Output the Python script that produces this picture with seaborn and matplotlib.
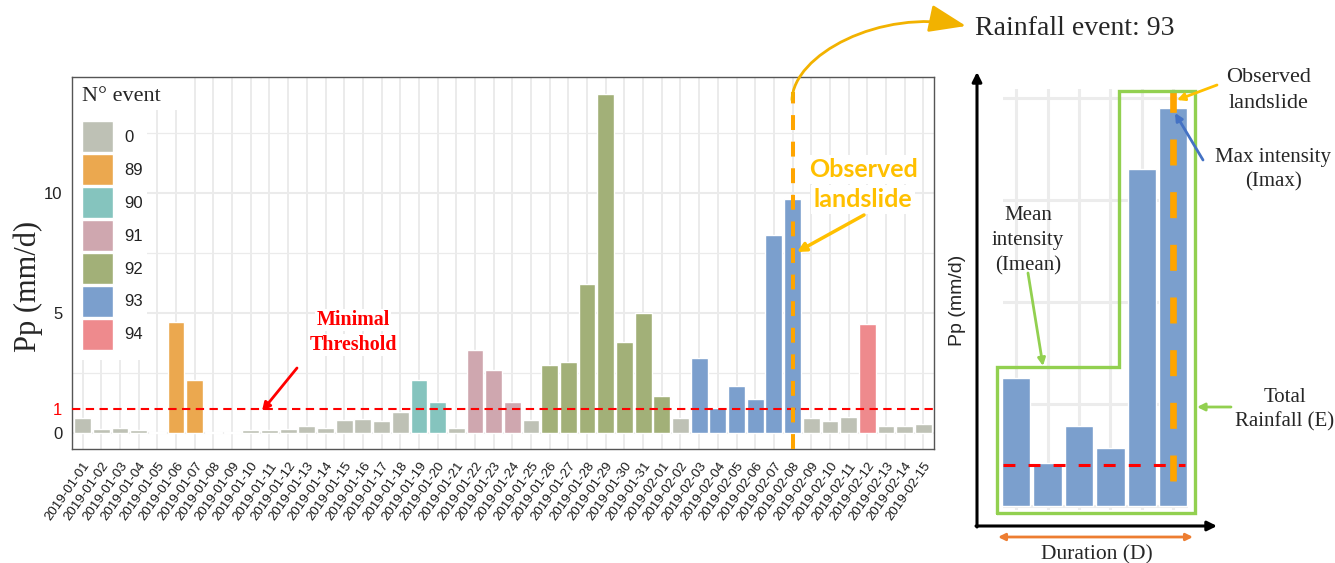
import numpy as np
import pandas as pd
import matplotlib
matplotlib.use("Agg")
import matplotlib.pyplot as plt
import matplotlib.patches as mpatches
from matplotlib.path import Path
from matplotlib.lines import Line2D
import seaborn as sns

# ---------------------------------------------------------------- data
dates = pd.date_range("2019-01-01", "2019-02-15").strftime("%Y-%m-%d").tolist()

rain_mm = [0.60, 0.17, 0.21, 0.11, 0.05, 4.61, 2.19, 0.03, 0.02, 0.10,
           0.13, 0.16, 0.26, 0.21, 0.51, 0.58, 0.48, 0.86, 2.19, 1.28,
           0.18, 3.47, 2.60, 1.29, 0.54, 2.83, 2.96, 6.21, 14.12, 3.80,
           4.98, 1.54, 0.60, 3.12, 1.04, 1.96, 1.42, 8.26, 9.75, 0.60,
           0.50, 0.64, 4.54, 0.28, 0.28, 0.36]

event_id = ["0", "0", "0", "0", "0", "89", "89", "0", "0", "0",
            "0", "0", "0", "0", "0", "0", "0", "0", "90", "90",
            "0", "91", "91", "91", "0", "92", "92", "92", "92", "92",
            "92", "92", "0", "93", "93", "93", "93", "93", "93", "0",
            "0", "0", "94", "0", "0", "0"]

event_levels = ["0", "89", "90", "91", "92", "93", "94"]
event_colors = ["#BEC1B5", "#EBA84F", "#85C4BE", "#CFA7AF",
                "#A2B078", "#7B9FCD", "#EE8A8D"]

threshold = 1.0
landslide_date = "2019-02-08"
focus_event = "93"

df = pd.DataFrame({"date": dates, "pp": rain_mm, "event": event_id})
focus = df[df["event"] == focus_event].reset_index(drop=True)

# ---------------------------------------------------------------- figure
W, H = 1335, 563
sns.set_style("white")
plt.rcParams["font.family"] = ["Liberation Sans", "DejaVu Sans"]
SERIF = ["Liberation Serif", "DejaVu Serif"]

fig = plt.figure(figsize=(W / 100, H / 100), dpi=100)


def P(x, y):
    """pixel position (from the top-left corner) -> figure fraction"""
    return (x / W, 1 - y / H)


def arrow(x0, y0, x1, y1, color, lw=2.0, style="-|>", scale=12):
    fig.add_artist(mpatches.FancyArrowPatch(
        P(x0, y0), P(x1, y1), transform=fig.transFigure,
        arrowstyle=style, mutation_scale=scale, color=color, lw=lw,
        shrinkA=0, shrinkB=0, zorder=10))


# ================================================================ main chart
ax = fig.add_axes([72 / W, 1 - 449 / H, 862 / W, 372 / H])
pal = dict(zip(event_levels, event_colors))
sns.barplot(data=df, x="date", y="pp", hue="event", hue_order=event_levels,
            palette=pal, dodge=False, width=0.9, saturation=1,
            ax=ax, zorder=2)

ymin, ymax = -0.68, 14.84
ax.set_xlim(-0.57, len(dates) - 0.43)
ax.set_ylim(ymin, ymax)

grid_c = "#EBEBEB"
for v in [0, 5, 10]:
    ax.axhline(v, color=grid_c, lw=1.5, zorder=0)
for v in [2.5, 7.5, 12.5]:
    ax.axhline(v, color=grid_c, lw=0.9, zorder=0)
for i in range(len(dates)):
    ax.axvline(i, color=grid_c, lw=1.4, zorder=0)

ax.set_yticks([0, 1, 5, 10])
ax.set_yticklabels(["0", "1", "5", "10"], fontsize=12, color="#222222")
ax.get_yticklabels()[1].set_color("red")
ax.set_xticks(range(len(dates)))
ax.set_xticklabels(dates, rotation=55, ha="right", rotation_mode="anchor",
                   fontsize=9.6, color="#1A1A1A")
ax.tick_params(axis="both", length=5, width=1.2, color="#333333", pad=2)
ax.tick_params(axis="x", pad=3)
ax.set_xlabel("")
ax.set_ylabel("")
fig.text(*P(28, 286), "Pp (mm/d)", family=SERIF, fontsize=22,
         rotation=90, ha="center", va="center")
for s in ax.spines.values():
    s.set_color("#555555")
    s.set_linewidth(1.0)

# minimal threshold and landslide day
ax.axhline(threshold, color="red", lw=1.5, ls=(0, (4, 2.6)), zorder=4)
xi = dates.index(landslide_date)
ax.vlines(xi, ymin, 14.2, color="#FFA500", lw=2.9,
          linestyles=(0, (3.7, 2.9)), zorder=5)

# legend: white panels behind the title and the keys
for (x0, y0, x1, y1) in [(72, 77, 190, 110), (72, 110, 147, 360)]:
    ax.add_patch(mpatches.Rectangle(P(x0, y1), (x1 - x0) / W, (y1 - y0) / H,
                                    transform=fig.transFigure,
                                    facecolor="white", edgecolor="none",
                                    zorder=1, clip_on=False))
handles, labels = ax.get_legend_handles_labels()
leg = ax.legend(handles, labels, title="N° event", loc="upper left",
                bbox_to_anchor=(0, 1), borderaxespad=0, frameon=False,
                handlelength=1.85, handleheight=2.45,
                labelspacing=0.14, handletextpad=0.7, borderpad=0.6,
                prop={"size": 12}, alignment="left",
                title_fontproperties={"family": SERIF, "size": 16})
leg._legend_box.sep = 11
leg.set_zorder(6)
for t in leg.get_texts():
    t.set_color("#222222")

# annotations on the main chart
fig.text(*P(353, 325), "Minimal", family=SERIF, fontweight="bold",
         fontsize=14.4, color="red", ha="center", va="baseline", zorder=7,
         bbox=dict(facecolor="white", edgecolor="none", pad=1))
fig.text(*P(353, 350), "Threshold", family=SERIF, fontweight="bold",
         fontsize=14.4, color="red", ha="center", va="baseline", zorder=7,
         bbox=dict(facecolor="white", edgecolor="none", pad=1))
arrow(297, 368, 262, 411, "red", lw=2.0, scale=12)

fig.text(*P(863, 177), "Observed", family=["Lato", "DejaVu Sans"],
         fontweight="bold", fontsize=18, color="#FFC000", ha="center",
         va="baseline", zorder=7,
         bbox=dict(facecolor="white", edgecolor="none", pad=2))
fig.text(*P(863, 207), "landslide", family=["Lato", "DejaVu Sans"],
         fontweight="bold", fontsize=18, color="#FFC000", ha="center",
         va="baseline", zorder=7,
         bbox=dict(facecolor="white", edgecolor="none", pad=2))
arrow(864, 215, 797, 252, "#FFC000", lw=2.5, scale=13)

# curved link to the event detail
pts = [P(792, 100), P(793, 55), P(880, 8), P(966, 26)]
curve = Path(pts, [Path.MOVETO, Path.CURVE4, Path.CURVE4, Path.CURVE4])
fig.add_artist(mpatches.FancyArrowPatch(
    path=curve, transform=fig.transFigure,
    arrowstyle="-|>,head_length=1.2,head_width=0.45", mutation_scale=19,
    color="#F2B200", lw=2.0, zorder=10))
fig.text(*P(975, 35), f"Rainfall event: {focus_event}", family=SERIF,
         fontsize=20, ha="left", va="baseline")

# ================================================================ event detail
ax2 = fig.add_axes([1003 / W, 1 - 510 / H, 185 / W, 421 / H])
sns.barplot(x=list(range(len(focus))), y=focus["pp"].tolist(),
            color=pal[focus_event], width=0.9, saturation=1, ax=ax2, zorder=2)
ax2.set_xlim(-0.42, 5.47)
ax2.set_ylim(-0.105, 10.21)
for v in [0, 2.5, 5, 7.5, 10]:
    ax2.axhline(v, color="#ECECEC", lw=2.2, zorder=0)
for i in range(len(focus)):
    ax2.axvline(i, color="#ECECEC", lw=2.2, zorder=0)
ax2.hlines(threshold, -0.42, 5.37, color="red", lw=2.2,
           linestyles=(0, (3.9, 4.3)), zorder=4)
ax2.vlines(len(focus) - 1, 0.6, 10.13, color="#FFA500", lw=4.8,
           linestyles=(0, (3.9, 4.0)), zorder=5)
ax2.axis("off")

# total rainfall outline
gx = [997, 997, 1119, 1119, 1195, 1195, 997]
gy = [513, 367, 367, 91, 91, 513, 513]
fig.add_artist(Line2D([x / W for x in gx], [1 - y / H for y in gy],
                      transform=fig.transFigure, color="#92D050", lw=2.4,
                      solid_joinstyle="miter", zorder=8))

# axes arrows of the sketch
arrow(977, 527, 977, 72, "black", lw=2.2, scale=14)
arrow(976, 526, 1217, 526, "black", lw=2.2, scale=14)
arrow(998, 537, 1193, 537, "#ED7D31", lw=2.0, style="<|-|>", scale=10)
fig.text(*P(957, 300), "Pp (mm/d)", fontsize=14, rotation=90,
         ha="center", va="center")
fig.text(*P(1097, 559), "Duration (D)", family=SERIF, fontsize=15.5,
         ha="center", va="baseline")

# sketch annotations
fig.text(*P(1269, 81.7), "Observed", family=SERIF, fontsize=16,
         ha="center", va="baseline")
fig.text(*P(1269, 108.3), "landslide", family=SERIF, fontsize=16,
         ha="center", va="baseline")
arrow(1217, 85, 1177, 100, "#FFC000", lw=2.0, scale=11)

fig.text(*P(1273, 161.7), "Max intensity", family=SERIF, fontsize=15,
         ha="center", va="baseline")
fig.text(*P(1273, 186.7), "(Imax)", family=SERIF, fontsize=15,
         ha="center", va="baseline")
arrow(1203, 160, 1175, 113, "#4472C4", lw=2.0, scale=11)

for k, line in enumerate(["Mean", "intensity", "(Imean)"]):
    fig.text(*P(1028, 220 + 25 * k), line, family=SERIF, fontsize=15,
             ha="center", va="baseline")
arrow(1028, 273, 1043, 366, "#92D050", lw=2.0, scale=11)

fig.text(*P(1285, 401.7), "Total", family=SERIF, fontsize=15,
         ha="center", va="baseline")
fig.text(*P(1285, 426), "Rainfall (E)", family=SERIF, fontsize=15,
         ha="center", va="baseline")
arrow(1231, 407, 1197, 407, "#92D050", lw=2.0, scale=11)

fig.savefig("out.png", dpi=100)
